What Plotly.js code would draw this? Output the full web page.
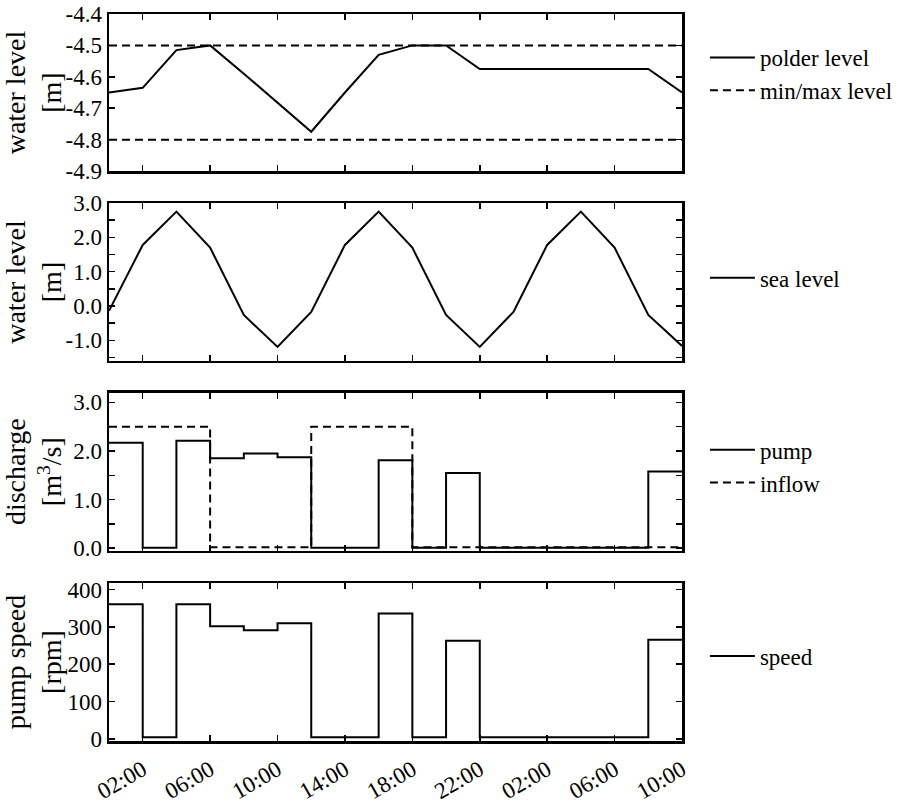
<!DOCTYPE html>
<html>
<head>
<meta charset="utf-8">
<script src="https://cdn.plot.ly/plotly-3.0.1.min.js"></script>
<style>html,body{margin:0;padding:0;background:#fff;}#chart{width:905px;height:804px;}</style>
</head>
<body>
<div id="chart"></div>
<script>
// time in hours since 00:00 of day 1
const hours = [0,2,4,6,8,10,12,14,16,18,20,22,24,26,28,30,32,34];
const polderLevel = [-4.65,-4.635,-4.515,-4.5,-4.59,-4.683,-4.775,-4.65,-4.53,-4.5,-4.5,-4.575,-4.575,-4.575,-4.575,-4.575,-4.575,-4.65];
const maxLevel = -4.5;
const minLevel = -4.8;
const seaLevel = [-0.14,1.78,2.75,1.7,-0.26,-1.19,-0.17,1.78,2.75,1.7,-0.26,-1.19,-0.17,1.78,2.75,1.7,-0.26,-1.16];
const pumpDischarge = [2.17,0.01,2.21,1.85,1.95,1.87,0.01,0.01,1.81,0.01,1.55,0.01,0.01,0.01,0.01,0.01,1.58,1.58];
const inflow = [2.5,2.5,2.5,0.02,0.02,0.02,2.5,2.5,2.5,0.02,0.02,0.02,0.02,0.02,0.02,0.02,0.02,0.02];
const pumpSpeed = [361,4,361,302,291,310,4,4,336,4,263,4,4,4,4,4,266,266];

const xTickVals = [2,6,10,14,18,22,26,30,34];
const xTickText = ["02:00","06:00","10:00","14:00","18:00","22:00","02:00","06:00","10:00"];

const y1Ticks = [-4.9,-4.8,-4.7,-4.6,-4.5,-4.4];
const y1Text = ["-4.9","-4.8","-4.7","-4.6","-4.5","-4.4"];
const y2Ticks = [-1,0,1,2,3];
const y2Text = ["-1.0","0.0","1.0","2.0","3.0"];
const y3Ticks = [0,1,2,3];
const y3Text = ["0.0","1.0","2.0","3.0"];
const y4Ticks = [0,100,200,300,400];
const y4Text = ["0","100","200","300","400"];

const xFirst = hours[0], xLast = hours[hours.length-1];
const LW = 2;
const DASH = "8px,5px";
const FONT = "'Liberation Serif', 'Times New Roman', Times, 'DejaVu Serif', serif";

const traces = [
  {x: hours, y: polderLevel, name: "polder level", mode: "lines", line: {color: "black", width: LW}, xaxis: "x", yaxis: "y", legend: "legend"},
  {x: [xFirst, xLast, null, xFirst, xLast], y: [maxLevel, maxLevel, null, minLevel, minLevel], name: "min/max level", mode: "lines", connectgaps: false, line: {color: "black", width: LW, dash: DASH}, xaxis: "x", yaxis: "y", legend: "legend"},
  {x: hours, y: seaLevel, name: "sea level", mode: "lines", line: {color: "black", width: LW}, xaxis: "x2", yaxis: "y2", legend: "legend2"},
  {x: hours, y: pumpDischarge, name: "pump", mode: "lines", line: {color: "black", width: LW, shape: "hv"}, xaxis: "x3", yaxis: "y3", legend: "legend3"},
  {x: hours, y: inflow, name: "inflow", mode: "lines", line: {color: "black", width: LW, shape: "hv", dash: DASH}, xaxis: "x3", yaxis: "y3", legend: "legend3"},
  {x: hours, y: pumpSpeed, name: "speed", mode: "lines", line: {color: "black", width: LW, shape: "hv"}, xaxis: "x4", yaxis: "y4", legend: "legend4"}
];

const axBase = {
  showline: true, linecolor: "black", linewidth: 2.5, mirror: "ticks",
  ticks: "inside", ticklen: 6, tickwidth: 1.5, tickcolor: "black",
  showgrid: false, zeroline: false, automargin: false, fixedrange: true
};
function xa(anchor, showLabels) {
  return Object.assign({}, axBase, {
    anchor: anchor, domain: [0, 1], range: [xFirst, xLast],
    tickmode: "array", tickvals: xTickVals, ticktext: xTickText,
    showticklabels: showLabels, tickangle: -30, ticklabelstandoff: 4
  });
}
function ya(anchor, dom, range, tv, tt, title, minorStep) {
  const o = Object.assign({}, axBase, {
    anchor: anchor, domain: dom, range: range,
    tickmode: "array", tickvals: tv, ticktext: tt,
    title: {text: title, standoff: 4}
  });
  if (minorStep) {
    o.minor = {tickmode: "linear", tick0: 0, dtick: minorStep, ticks: "inside", ticklen: 6, tickwidth: 1.5, tickcolor: "black", showgrid: false};
  }
  return o;
}
const legBase = {x: 1.04, xanchor: "left", yanchor: "middle", bgcolor: "rgba(0,0,0,0)", borderwidth: 0, itemwidth: 45, font: {family: FONT, size: 23, color: "black"}};

const layout = {
  width: 905, height: 804,
  margin: {l: 109, r: 223, t: 14, b: 63, autoexpand: false},
  paper_bgcolor: "white", plot_bgcolor: "white",
  font: {family: FONT, size: 23, color: "black"},
  showlegend: true,
  xaxis: xa("y", false),
  xaxis2: xa("y2", false),
  xaxis3: xa("y3", false),
  xaxis4: xa("y4", true),
  yaxis: ya("x", [0.784, 1.0], [-4.9, -4.4], y1Ticks, y1Text, "water level<br>[m]", null),
  yaxis2: ya("x2", [0.5227, 0.740], [-1.6, 3.0], y2Ticks, y2Text, "water level<br>[m]", 0.5),
  yaxis3: ya("x3", [0.2618, 0.4791], [-0.05, 3.2], y3Ticks, y3Text, "discharge<br>[m<sup>3</sup>/s]", 0.5),
  yaxis4: ya("x4", [0, 0.2173], [-6, 418], y4Ticks, y4Text, "pump speed<br>[rpm]", null),
  legend: Object.assign({}, legBase, {y: 0.9175}),
  legend2: Object.assign({}, legBase, {y: 0.637}),
  legend3: Object.assign({}, legBase, {y: 0.378}),
  legend4: Object.assign({}, legBase, {y: 0.117})
};

Plotly.newPlot("chart", traces, layout, {staticPlot: true, displayModeBar: false});
</script>
</body>
</html>
